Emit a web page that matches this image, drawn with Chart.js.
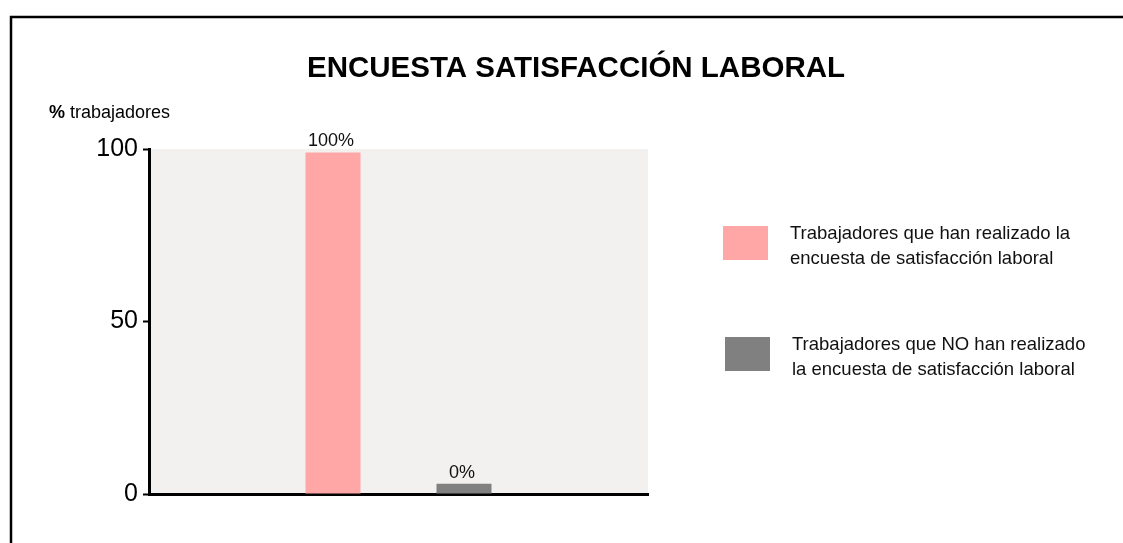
<!DOCTYPE html>
<html>
<head>
<meta charset="utf-8">
<script src="https://cdn.jsdelivr.net/npm/chart.js@4.4.1/dist/chart.umd.min.js"></script>
<style>
  html, body { margin: 0; padding: 0; background: #ffffff; }
  #wrap { position: relative; width: 1123px; height: 543px; }
</style>
</head>
<body>
<div id="wrap"><canvas id="c" width="1123" height="543"></canvas></div>
<script>
// ---- data ----
const categories = ['Encuesta'];
const seriesDone = [99];       // bar height as drawn
const seriesNotDone = [3];     // small bar as drawn
const valueLabels = ['100%', '0%'];
const yTicks = [0, 50, 100];
const legendLines = [
  ['Trabajadores que han realizado la', 'encuesta de satisfacción laboral'],
  ['Trabajadores que NO han realizado', 'la encuesta de satisfacción laboral']
];
const chartTitle = 'ENCUESTA SATISFACCIÓN LABORAL';
const yAxisUnit = '%';
const yAxisText = ' trabajadores';

const FONT = '"Liberation Sans", Arial, Helvetica, sans-serif';
const PINK = '#FFA7A7';
const GRAY = '#808080';

function drawText(ctx, text, x, y, font, align) {
  ctx.font = font;
  ctx.textAlign = align || 'left';
  ctx.fillText(text, x, y);
  return ctx.measureText(text).width;
}

const decor = {
  id: 'decor',
  beforeDraw(chart) {
    const { ctx, chartArea: a } = chart;
    ctx.save();
    ctx.fillStyle = '#F2F1EF';
    ctx.fillRect(a.left, a.top, a.right - a.left, a.bottom - a.top);
    ctx.restore();
  },
  afterDatasetsDraw(chart) {
    const { ctx } = chart;
    ctx.save();
    ctx.fillStyle = '#111';
    ctx.textBaseline = 'alphabetic';
    chart.data.datasets.forEach((ds, i) => {
      const meta = chart.getDatasetMeta(i);
      meta.data.forEach((el) => {
        drawText(ctx, valueLabels[i], el.x - 2, el.y - 6, '18px ' + FONT, 'center');
      });
    });
    ctx.restore();
  },
  afterDraw(chart) {
    const { ctx } = chart;
    ctx.save();
    // frame
    ctx.strokeStyle = '#000';
    ctx.lineWidth = 2.5;
    ctx.beginPath();
    ctx.moveTo(11, 543);
    ctx.lineTo(11, 17);
    ctx.lineTo(1123, 17);
    ctx.stroke();
    // title
    ctx.fillStyle = '#000';
    ctx.textBaseline = 'alphabetic';
    drawText(ctx, chartTitle, 576, 77, 'bold 29.5px ' + FONT, 'center');
    // y axis label
    const w = drawText(ctx, yAxisUnit, 49, 118, 'bold 18px ' + FONT, 'left');
    drawText(ctx, yAxisText, 49 + w, 118, '18px ' + FONT, 'left');
    // legend
    const boxes = [[723, 226], [725, 337]];
    const texts = [[790, 239], [792, 350]];
    chart.data.datasets.forEach((ds, i) => {
      ctx.fillStyle = ds.backgroundColor;
      ctx.fillRect(boxes[i][0], boxes[i][1], 45, 34);
      ctx.fillStyle = '#111';
      legendLines[i].forEach((ln, j) => {
        drawText(ctx, ln, texts[i][0], texts[i][1] + j * 25, '18.5px ' + FONT, 'left');
      });
    });
    ctx.restore();
  }
};

new Chart(document.getElementById('c'), {
  type: 'bar',
  data: {
    labels: categories,
    datasets: [
      { label: legendLines[0].join(' '), data: seriesDone, backgroundColor: PINK,
        categoryPercentage: 0.525, barPercentage: 0.42 },
      { label: legendLines[1].join(' '), data: seriesNotDone, backgroundColor: GRAY,
        categoryPercentage: 0.525, barPercentage: 0.42 }
    ]
  },
  options: {
    responsive: false,
    animation: false,
    devicePixelRatio: 1,
    layout: { padding: { left: 0, top: 149, right: 475, bottom: 49 } },
    plugins: { legend: { display: false }, title: { display: false }, tooltip: { enabled: false } },
    scales: {
      x: {
        ticks: { display: false },
        grid: { display: false },
        border: { display: true, color: '#000', width: 3 },
        afterFit(s) { s.height = 0; }
      },
      y: {
        min: 0, max: 100,
        afterBuildTicks(s) { s.ticks = yTicks.map(v => ({ value: v })); },
        ticks: { color: '#000', font: { size: 25, family: FONT }, padding: 5 },
        grid: { drawOnChartArea: false, tickLength: 6, tickColor: '#000', tickWidth: 2 },
        border: { display: true, color: '#000', width: 3 },
        afterFit(s) { s.width = 149; }
      }
    }
  },
  plugins: [decor]
});
</script>
</body>
</html>
